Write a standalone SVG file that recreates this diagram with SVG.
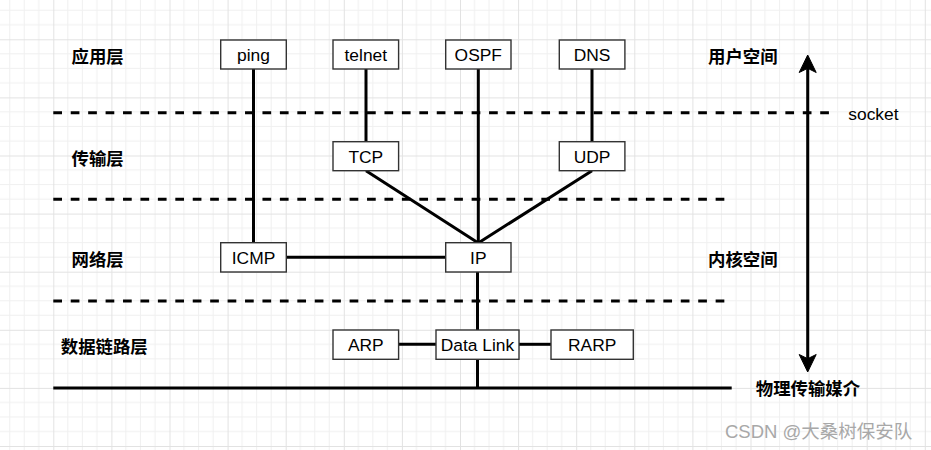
<svg xmlns="http://www.w3.org/2000/svg" width="931" height="450" viewBox="0 0 931 450">
<style>
.box{fill:#fff;stroke:#333;stroke-width:1.4}
.bt{font-family:"Liberation Sans",Arial,sans-serif;font-size:17.4px;fill:#000;text-anchor:middle}
.lbl{font-family:"Liberation Sans","Noto Sans CJK SC",sans-serif;font-size:17.4px;font-weight:bold;fill:#000}
.ln{stroke:#000;stroke-width:3;fill:none}
.dash{stroke:#000;stroke-width:3;stroke-dasharray:8.7 8.73;fill:none}
.minor{stroke:#f0f0f0;stroke-width:1}
.major{stroke:#e2e2e2;stroke-width:1}
</style>
<defs>
<pattern id="grid" patternUnits="userSpaceOnUse" x="-4.8" y="-18.8" width="58.1" height="58.1">
<path class="minor" d="M14.525 0V58.1M29.05 0V58.1M43.575 0V58.1M0 14.525H58.1M0 29.05H58.1M0 43.575H58.1"/>
<path class="major" d="M0.5 0V58.1M0 0.5H58.1"/>
</pattern>
</defs>
<rect width="931" height="450" fill="#fff"/>
<rect width="931" height="450" fill="url(#grid)"/>

<g id="connectors">
<path class="dash" d="M53.3 112.7H829"/>
<path class="dash" d="M53.3 199.3H724.5"/>
<path class="dash" d="M53.3 301H724.5"/>
<path class="ln" d="M253.5 69V242.7"/>
<path class="ln" d="M366 69V141.7"/>
<path class="ln" d="M478.3 69V243"/>
<path class="ln" d="M592 69V141.7"/>
<path class="ln" d="M366 170.7L478.3 243L592 170.7"/>
<path class="ln" d="M286.3 257.3H445.7"/>
<path class="ln" d="M477.5 272V330"/>
<path class="ln" d="M398.7 344.3H436"/>
<path class="ln" d="M519 344.3H551"/>
<path class="ln" d="M477.5 359.3V388"/>
<path class="ln" d="M53.3 388H731.7"/>
<path class="ln" d="M807.7 67V360"/>
<path d="M807.7 55L816.2 72.5L807.7 68.3L799.2 72.5Z" fill="#000" stroke="#000" stroke-width="1"/>
<path d="M807.7 372L816.2 354.5L807.7 358.7L799.2 354.5Z" fill="#000" stroke="#000" stroke-width="1"/>
</g>

<g id="ping"><rect class="box" x="220.7" y="40" width="65.6" height="29"/><text class="bt" x="253.5" y="61">ping</text></g>
<g id="telnet"><rect class="box" x="333" y="40" width="65.6" height="29"/><text class="bt" x="365.8" y="61">telnet</text></g>
<g id="ospf"><rect class="box" x="445.7" y="40" width="65.3" height="29"/><text class="bt" x="478.3" y="61">OSPF</text></g>
<g id="dns"><rect class="box" x="559.3" y="40" width="65.6" height="29"/><text class="bt" x="592" y="61">DNS</text></g>
<g id="tcp"><rect class="box" x="333" y="141.7" width="65.6" height="29"/><text class="bt" x="365.8" y="162.7">TCP</text></g>
<g id="udp"><rect class="box" x="559.3" y="141.7" width="65.6" height="29"/><text class="bt" x="592" y="162.7">UDP</text></g>
<g id="icmp"><rect class="box" x="220.7" y="242.7" width="65.6" height="29.3"/><text class="bt" x="253.5" y="264">ICMP</text></g>
<g id="ip"><rect class="box" x="445.7" y="242.7" width="65.3" height="29.3"/><text class="bt" x="478.3" y="264">IP</text></g>
<g id="arp"><rect class="box" x="333" y="330" width="65.6" height="29.3"/><text class="bt" x="365.8" y="351.3">ARP</text></g>
<g id="datalink"><rect class="box" x="436" y="330" width="83" height="29.3"/><text class="bt" x="477.5" y="351.3">Data Link</text></g>
<g id="rarp"><rect class="box" x="551" y="330" width="82.3" height="29.3"/><text class="bt" x="592.2" y="351.3">RARP</text></g>

<g id="labels">
<text class="lbl" x="71.5" y="63.3">应用层</text>
<text class="lbl" x="71.5" y="164.6">传输层</text>
<text class="lbl" x="71.5" y="265.6">网络层</text>
<text class="lbl" x="60.8" y="353">数据链路层</text>
<text class="lbl" x="708" y="63">用户空间</text>
<text class="lbl" x="708" y="265.6">内核空间</text>
<text class="lbl" x="755.8" y="395.3">物理传输媒介</text>
<text x="848.3" y="120" font-family="Liberation Sans,Arial,sans-serif" font-size="17.4" fill="#000">socket</text>
<text x="725" y="438" font-family="Liberation Sans,'Noto Sans CJK SC',sans-serif" font-size="18.5" fill="#a8a8a8">CSDN @大桑树保安队</text>
</g>
</svg>
